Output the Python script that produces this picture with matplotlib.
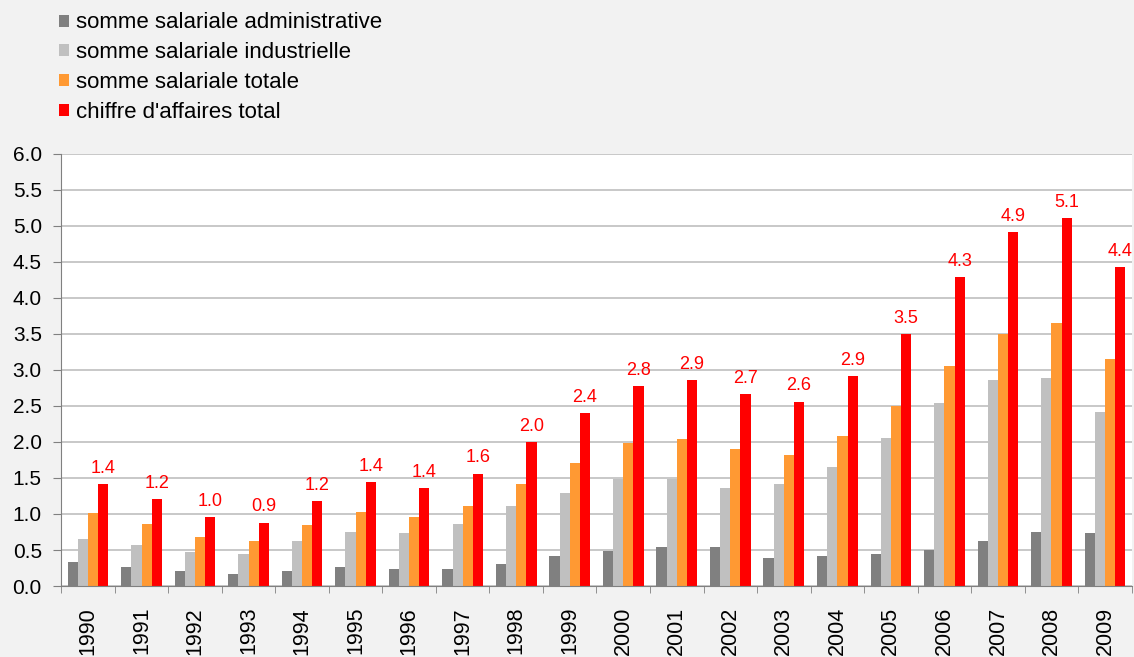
import numpy as np
import matplotlib.pyplot as plt

plt.rcParams['font.family'] = ['Liberation Sans', 'DejaVu Sans']

years = [str(y) for y in range(1990, 2010)]
admin = [0.34, 0.27, 0.21, 0.17, 0.21, 0.27, 0.24, 0.24, 0.31, 0.42,
         0.49, 0.54, 0.54, 0.39, 0.42, 0.44, 0.50, 0.63, 0.75, 0.74]
indus = [0.65, 0.57, 0.47, 0.45, 0.62, 0.75, 0.73, 0.86, 1.11, 1.29,
         1.49, 1.49, 1.36, 1.41, 1.65, 2.05, 2.54, 2.86, 2.89, 2.41]
total = [1.01, 0.86, 0.68, 0.63, 0.85, 1.03, 0.96, 1.11, 1.42, 1.71,
         1.98, 2.04, 1.90, 1.82, 2.08, 2.50, 3.05, 3.50, 3.65, 3.15]
ca = [1.41, 1.21, 0.96, 0.88, 1.18, 1.44, 1.36, 1.56, 2.00, 2.40,
      2.77, 2.86, 2.66, 2.56, 2.91, 3.50, 4.29, 4.91, 5.11, 4.43]

series = [
    ("somme salariale administrative", admin, "#808080"),
    ("somme salariale industrielle", indus, "#C0C0C0"),
    ("somme salariale totale", total, "#FF9933"),
    ("chiffre d'affaires total", ca, "#FF0000"),
]

fig = plt.figure(figsize=(11.34, 6.57), dpi=100, facecolor="#F2F2F2")
ax = fig.add_axes([0.054, 0.108, 0.944, 0.658])
ax.set_facecolor("white")

x = np.arange(len(years))
w = 0.19
for i, (name, vals, col) in enumerate(series):
    ax.bar(x + (i - 1.5) * w, vals, w, color=col, label=name, zorder=2)

# labels over the turnover bars
for xi, v in zip(x, ca):
    ax.text(xi + 1.5 * w, v + 0.1, f"{v:.1f}", color="#FF0000",
            ha="center", va="bottom", fontsize=13)

ax.set_xlim(-0.5, len(years) - 0.5)
ax.set_ylim(0, 6)
yt = np.arange(0, 6.01, 0.5)
ax.set_yticks(yt)
ax.set_yticklabels([f"{t:.1f}" for t in yt], fontsize=15)
ax.yaxis.grid(True, color="#BFBFBF", linewidth=1.2, zorder=0)
ax.tick_params(axis="y", length=6, color="#808080", pad=8)

ax.set_xticks(x)
ax.set_xticklabels(years, rotation=90, fontsize=15.5, va="top")
ax.tick_params(axis="x", length=0, pad=15)
ax.set_xticks(np.arange(-0.5, len(years)), minor=True)
ax.tick_params(axis="x", which="minor", length=5, color="#808080")

for s in ["top", "right"]:
    ax.spines[s].set_visible(False)
for s in ["left", "bottom"]:
    ax.spines[s].set_color("#808080")

fig.legend(loc="upper left", bbox_to_anchor=(0.052, 0.981), frameon=False,
           borderpad=0, borderaxespad=0, fontsize=16, handlelength=0.45,
           handleheight=0.45, handletextpad=0.3, labelspacing=0.4)

fig.savefig("out.png", dpi=100, facecolor=fig.get_facecolor())
